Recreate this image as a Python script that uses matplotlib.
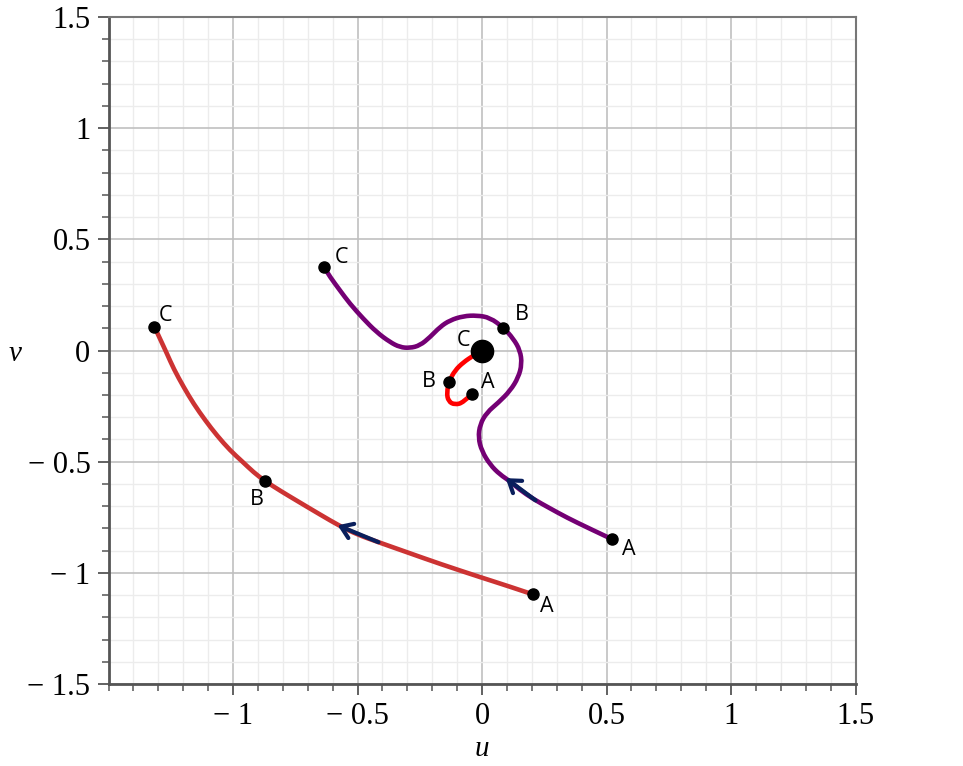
import numpy as np
import matplotlib.pyplot as plt
from matplotlib.path import Path
from matplotlib.patches import PathPatch
from matplotlib.ticker import MultipleLocator, FixedLocator

# trajectories (u, v)
red_u = [0.205, 0.101, 0.000, -0.168, -0.302, -0.416, -0.500, -0.570, -0.650, -0.743, -0.810,
         -0.873, -0.917, -0.964, -1.011, -1.064, -1.111, -1.158, -1.198, -1.238, -1.265, -1.295, -1.316]
red_v = [-1.097, -1.058, -1.022, -0.960, -0.907, -0.862, -0.828, -0.790, -0.738, -0.676, -0.631,
         -0.586, -0.548, -0.498, -0.450, -0.383, -0.315, -0.240, -0.165, -0.083, -0.015, 0.057, 0.108]

purple_u = [0.521, 0.430, 0.340, 0.270, 0.206, 0.150, 0.113, 0.072, 0.032, -0.001, -0.015, -0.008,
            0.019, 0.066, 0.113, 0.146, 0.160, 0.153, 0.126, 0.086, 0.032, -0.021, -0.075, -0.129,
            -0.169, -0.209, -0.249, -0.290, -0.330, -0.370, -0.424, -0.477, -0.531, -0.571, -0.611, -0.635]
purple_v = [-0.848, -0.800, -0.751, -0.708, -0.668, -0.625, -0.588, -0.558, -0.513, -0.452, -0.392, -0.332,
            -0.279, -0.234, -0.181, -0.121, -0.060, 0.000, 0.053, 0.103, 0.148, 0.158, 0.155, 0.136,
            0.106, 0.060, 0.023, 0.011, 0.015, 0.038, 0.083, 0.143, 0.211, 0.271, 0.332, 0.377]

small_u = [-0.042, -0.075, -0.109, -0.135, -0.142, -0.131, -0.109, -0.075, -0.035, -0.010]
small_v = [-0.196, -0.234, -0.244, -0.229, -0.189, -0.136, -0.090, -0.053, -0.023, -0.006]

# labelled points: (u, v, label, offset in pixels)
red_pts = [(0.205, -1.097, "A", (14, -12)), (-0.873, -0.586, "B", (-8, -19)), (-1.316, 0.108, "C", (11, 11))]
purple_pts = [(0.521, -0.848, "A", (17, -10)), (0.086, 0.103, "B", (18, 13)), (-0.635, 0.377, "C", (18, 9))]
small_pts = [(-0.042, -0.194, "A", (16, 11)), (-0.133, -0.140, "B", (-20, 0)), (0.0, 0.0, "C", (-19, 10))]

# direction arrows: (tail, head)
arrows = [((-0.416, -0.862), (-0.580, -0.786)), ((0.215, -0.674), (0.095, -0.574))]


def curve_patch(u, v, color):
    # quadratic bezier through the midpoints, so the traced points give a smooth stroke
    pts = np.column_stack([u, v])
    verts = [pts[0]]
    codes = [Path.MOVETO]
    for i in range(1, len(pts) - 1):
        verts += [pts[i], (pts[i] + pts[i + 1]) / 2]
        codes += [Path.CURVE3, Path.CURVE3]
    verts.append(pts[-1])
    codes.append(Path.LINETO)
    return PathPatch(Path(verts, codes), fill=False, edgecolor=color, lw=3.3,
                     capstyle='round', joinstyle='round', zorder=3)


plt.rcParams['font.family'] = ['Liberation Serif', 'DejaVu Serif']
fig = plt.figure(figsize=(9.63, 7.66), dpi=100)
ax = fig.add_axes([0.1127, 0.1070, 0.7757, 0.8708])

ax.set_xlim(-1.5, 1.5)
ax.set_ylim(-1.5, 1.5)

xt = [-1, -0.5, 0, 0.5, 1, 1.5]
yt = [-1.5, -1, -0.5, 0, 0.5, 1, 1.5]
ax.xaxis.set_major_locator(FixedLocator(xt))
ax.yaxis.set_major_locator(FixedLocator(yt))
ax.xaxis.set_minor_locator(MultipleLocator(0.1))
ax.yaxis.set_minor_locator(MultipleLocator(0.1))

def fmt(t):
    s = "%g" % abs(t)
    return ("\u2212 " + s) if t < 0 else s

ax.set_xticklabels([fmt(t) for t in xt])
ax.set_yticklabels([fmt(t) for t in yt])

ax.grid(which='major', color='#c0c0c0', lw=1.2, zorder=0)
ax.grid(which='minor', color='#ececec', lw=1.0, zorder=0)
ax.set_axisbelow(True)

ax.tick_params(which='major', direction='out', length=8, width=1.3, color='#555555',
               labelsize=22, pad=5)
ax.tick_params(which='minor', direction='out', length=5, width=1.1, color='#555555')
ax.tick_params(axis='x', which='major', pad=5)
for side in ['left', 'bottom']:
    ax.spines[side].set_color('#555555')
    ax.spines[side].set_linewidth(2)
for side in ['top', 'right']:
    ax.spines[side].set_color('#777777')
    ax.spines[side].set_linewidth(1.5)

ax.add_patch(curve_patch(red_u, red_v, '#cc3333'))
ax.add_patch(curve_patch(purple_u, purple_v, '#740074'))
ax.add_patch(curve_patch(small_u, small_v, '#ff0000'))

for (tail, head) in arrows:
    ax.annotate("", xy=head, xytext=tail,
                arrowprops=dict(arrowstyle='->,head_length=0.8,head_width=0.55',
                                color='#0a1f5c', lw=3, shrinkA=0, shrinkB=0),
                zorder=4)

for pts in [red_pts, purple_pts, small_pts]:
    for (u, v, lab, off) in pts:
        size = 16 if (u == 0.0 and v == 0.0) else 8
        ax.plot(u, v, 'o', color='black', ms=size, zorder=5)
        ax.annotate(lab, (u, v), xytext=off, textcoords='offset pixels',
                    ha='center', va='center', fontsize=15.5, family=['Open Sans', 'DejaVu Sans'],
                    zorder=6)

ax.set_xlabel("u", fontsize=21, style='italic', va='center')
ax.set_ylabel("v", fontsize=21, style='italic', rotation=0, va='center', ha='center')
ax.xaxis.set_label_coords(0.5, -0.097)
ax.yaxis.set_label_coords(-0.125, 0.495)

fig.savefig("out.png", dpi=100)
